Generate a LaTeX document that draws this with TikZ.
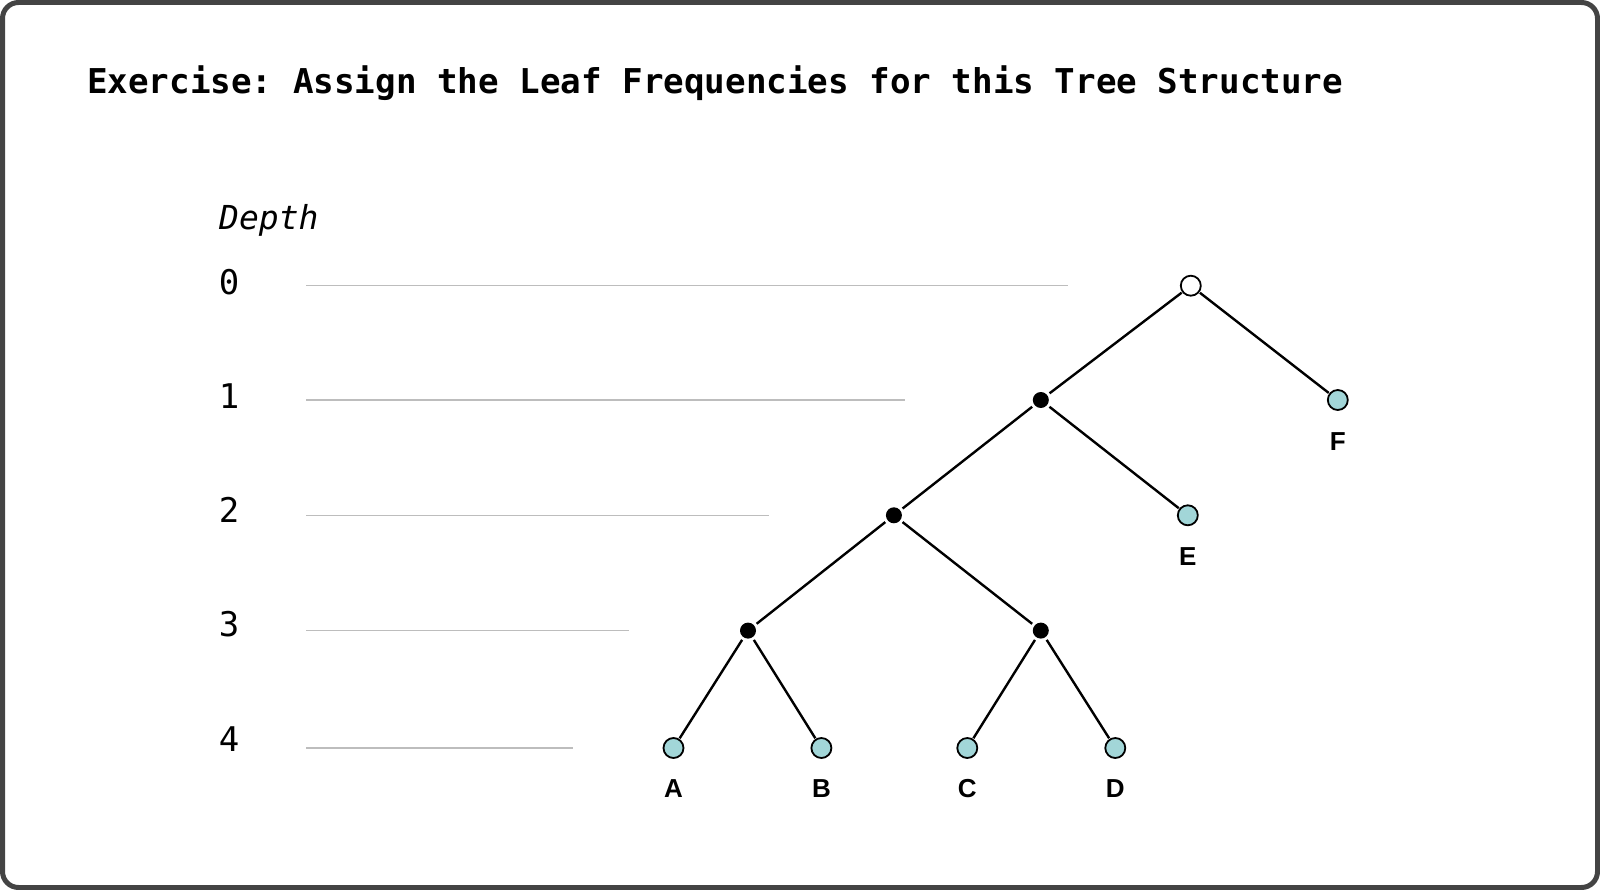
\documentclass[tikz,border=0pt]{standalone}
\usepackage{fontspec}
\setmonofont{DejaVu Sans Mono}
\newfontfamily\lblfont{Liberation Sans}
\definecolor{framegray}{HTML}{444444}
\definecolor{guidegray}{HTML}{BDBDBD}
\definecolor{leafteal}{RGB}{162,214,216}
\begin{document}
\begin{tikzpicture}[x=1pt,y=-1pt,
  rootnode/.style={circle,draw=black,line width=1.8pt,fill=white,minimum size=20pt,inner sep=0pt,outer sep=1.5pt},
  innernode/.style={circle,fill=black,minimum size=16pt,inner sep=0pt,outer sep=3pt},
  leafnode/.style={circle,draw=black,line width=1.8pt,fill=leafteal,minimum size=20pt,inner sep=0pt,outer sep=1.5pt},
  edge/.style={line width=2.4pt,black},
  guide/.style={line width=1.4pt,guidegray},
  leaflabel/.style={font=\lblfont\bfseries\fontsize{26}{30}\selectfont,inner sep=0pt},
  depthnum/.style={font=\ttfamily\fontsize{34}{40}\selectfont,inner sep=0pt},
]
\useasboundingbox (0,0) rectangle (1600,890);
\draw[framegray,line width=5pt,rounded corners=16pt] (2.5,2.5) rectangle (1597.5,887.5);

\node[anchor=base west,inner sep=0pt,font=\ttfamily\bfseries\fontsize{34.2}{40}\selectfont] (title) at (87,94) {Exercise: Assign the Leaf Frequencies for this Tree Structure};

\node[anchor=base west,inner sep=0pt,font=\ttfamily\itshape\fontsize{33}{40}\selectfont] (depth) at (219,230) {Depth};

\node[depthnum] (d0) at (229,282) {0};
\node[depthnum] (d1) at (229,396) {1};
\node[depthnum] (d2) at (229,510) {2};
\node[depthnum] (d3) at (229,624.5) {3};
\node[depthnum] (d4) at (229,739) {4};

\coordinate (g0a) at (306,285.7); \coordinate (g0b) at (1068,285.7);
\coordinate (g1a) at (306,400); \coordinate (g1b) at (905,400);
\coordinate (g2a) at (306,515.3); \coordinate (g2b) at (769,515.3);
\coordinate (g3a) at (306,630.6); \coordinate (g3b) at (629,630.6);
\coordinate (g4a) at (306,748); \coordinate (g4b) at (573,748);
\draw[guide] (g0a) -- (g0b);
\draw[guide] (g1a) -- (g1b);
\draw[guide] (g2a) -- (g2b);
\draw[guide] (g3a) -- (g3b);
\draw[guide] (g4a) -- (g4b);

\node[rootnode] (r) at (1190.8,285.7) {};
\node[innernode] (n1) at (1040.8,400) {};
\node[leafnode] (F) at (1337.8,400) {};
\node[innernode] (n2) at (893.9,515.3) {};
\node[leafnode] (E) at (1187.8,515.3) {};
\node[innernode] (n3) at (748,630.6) {};
\node[innernode] (n4) at (1040.8,630.6) {};
\node[leafnode] (A) at (673.5,748) {};
\node[leafnode] (B) at (821.4,748) {};
\node[leafnode] (C) at (967.3,748) {};
\node[leafnode] (D) at (1115.3,748) {};

\draw[edge] (r) -- (n1);
\draw[edge] (r) -- (F);
\draw[edge] (n1) -- (n2);
\draw[edge] (n1) -- (E);
\draw[edge] (n2) -- (n3);
\draw[edge] (n2) -- (n4);
\draw[edge] (n3) -- (A);
\draw[edge] (n3) -- (B);
\draw[edge] (n4) -- (C);
\draw[edge] (n4) -- (D);

\node[leaflabel] (lF) at (1337.8,441.8) {F};
\node[leaflabel] (lE) at (1187.8,557) {E};
\node[leaflabel] (lA) at (673.5,788.8) {A};
\node[leaflabel] (lB) at (821.4,788.8) {B};
\node[leaflabel] (lC) at (967.3,788.8) {C};
\node[leaflabel] (lD) at (1115.3,788.8) {D};
\end{tikzpicture}
\end{document}
